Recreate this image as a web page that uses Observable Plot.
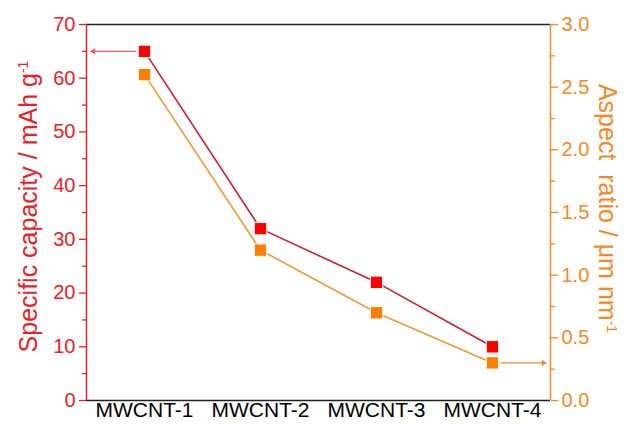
<!DOCTYPE html>
<html><head><meta charset="utf-8">
<script src="https://cdn.jsdelivr.net/npm/d3@7"></script>
<script src="https://cdn.jsdelivr.net/npm/@observablehq/plot@0.6"></script>
<style>body{margin:0;background:#fff}</style>
</head><body><div id="chart"></div>
<script>
const categories = ["MWCNT-1", "MWCNT-2", "MWCNT-3", "MWCNT-4"];
const capacity = [65, 32, 22, 10];            // mAh g-1 (left axis)
const aspectRatio = [2.6, 1.2, 0.7, 0.3];     // um nm-1 (right axis)
const leftTicks = [0, 10, 20, 30, 40, 50, 60, 70];
const leftMinor = [5, 15, 25, 35, 45, 55, 65];
const rightTicks = [0, 0.5, 1.0, 1.5, 2.0, 2.5, 3.0];
const rightMinor = [0.25, 0.75, 1.25, 1.75, 2.25, 2.75];
const leftTitle = "Specific capacity / mAh g";
const rightTitle = "Aspect\u00a0 ratio / \u03bcm nm";
const leftMax = 70, rightMax = 3.0;
const k = leftMax / rightMax;

const red = "#e3232b", redLine = "#cc1f2f", redMark = "#ff0000", redArrow = "#ef5a5a";
const orange = "#ef8a2a", orangeLine = "#eb9a3c", orangeMark = "#ff8000";

const idx = categories.map((c, i) => i + 1);
const capData = categories.map((c, i) => ({x: i + 1, y: capacity[i]}));
const arData = categories.map((c, i) => ({x: i + 1, y: aspectRatio[i] * k}));

const chart = Plot.plot({
  width: 624, height: 425,
  marginLeft: 86, marginRight: 74, marginTop: 24, marginBottom: 25,
  style: {fontFamily: "'Liberation Sans', Arial, sans-serif", background: "white"},
  x: {type: "linear", domain: [0.5, 4.5]},
  y: {domain: [0, leftMax]},
  marks: [
    Plot.ruleY([0, leftMax], {x1: 0.5, x2: 4.5, stroke: "#222", strokeWidth: 1.6}),
    Plot.ruleX([0.5], {y1: 0, y2: leftMax, stroke: red, strokeWidth: 1.5}),
    Plot.ruleX([4.5], {y1: 0, y2: leftMax, stroke: orange, strokeWidth: 1.5}),
    Plot.axisY({anchor: "left", ticks: leftTicks, tickSize: 7, tickPadding: 4, color: red, fontSize: 20, label: null, strokeWidth: 1.3}),
    Plot.axisY({anchor: "left", ticks: leftMinor, tickSize: 4, tickFormat: () => "", color: red, label: null, strokeWidth: 1.3}),
    Plot.axisY({anchor: "right", ticks: rightTicks.map(v => v * k), tickFormat: d => (d / k).toFixed(1), tickSize: 7, tickPadding: 4, color: orange, fontSize: 20, label: null, strokeWidth: 1.3}),
    Plot.axisY({anchor: "right", ticks: rightMinor.map(v => v * k), tickSize: 4, tickFormat: () => "", color: orange, label: null, strokeWidth: 1.3}),
    Plot.axisX({ticks: idx, tickFormat: i => categories[i - 1], tickSize: 0, tickPadding: 2, fontSize: 21, color: "black", label: null}),
    Plot.line(capData, {x: "x", y: "y", stroke: redLine, strokeWidth: 1.6}),
    Plot.line(arData, {x: "x", y: "y", stroke: orangeLine, strokeWidth: 1.6}),
    Plot.dot(capData, {x: "x", y: "y", symbol: "square", r: 7, fill: redMark, stroke: "#fff", strokeWidth: 1}),
    Plot.dot(arData, {x: "x", y: "y", symbol: "square", r: 7, fill: orangeMark, stroke: "#fff", strokeWidth: 1}),
    Plot.link([capData[0]], {x1: 0.93, x2: 0.56, y1: "y", y2: "y", stroke: redArrow, strokeWidth: 1.2}),
    Plot.dot([capData[0]], {x: 0.56, y: "y", symbol: "triangle2", r: 3, fill: redArrow, rotate: -90}),
    Plot.link([arData[3]], {x1: 4.07, x2: 4.44, y1: "y", y2: "y", stroke: orange, strokeWidth: 1.2}),
    Plot.dot([arData[3]], {x: 4.44, y: "y", symbol: "triangle2", r: 3, fill: orange, rotate: 90}),
    Plot.text([leftTitle], {text: d => d, frameAnchor: "left", textAnchor: "middle", dx: -58, dy: -6, rotate: -90, fill: red, fontSize: 25}),
    Plot.text([rightTitle], {text: d => d, frameAnchor: "right", textAnchor: "middle", dx: 56, dy: -4, rotate: 90, fill: orange, fontSize: 25})
  ]
});

// superscript "-1" on the axis titles
d3.select(chart).selectAll("text").each(function() {
  const t = this.textContent;
  if (t === leftTitle || t === rightTitle) {
    d3.select(this).append("tspan").attr("dy", "-0.6em").attr("font-size", 14).text("-1");
  }
});

document.getElementById("chart").appendChild(chart);
</script>
</body></html>
